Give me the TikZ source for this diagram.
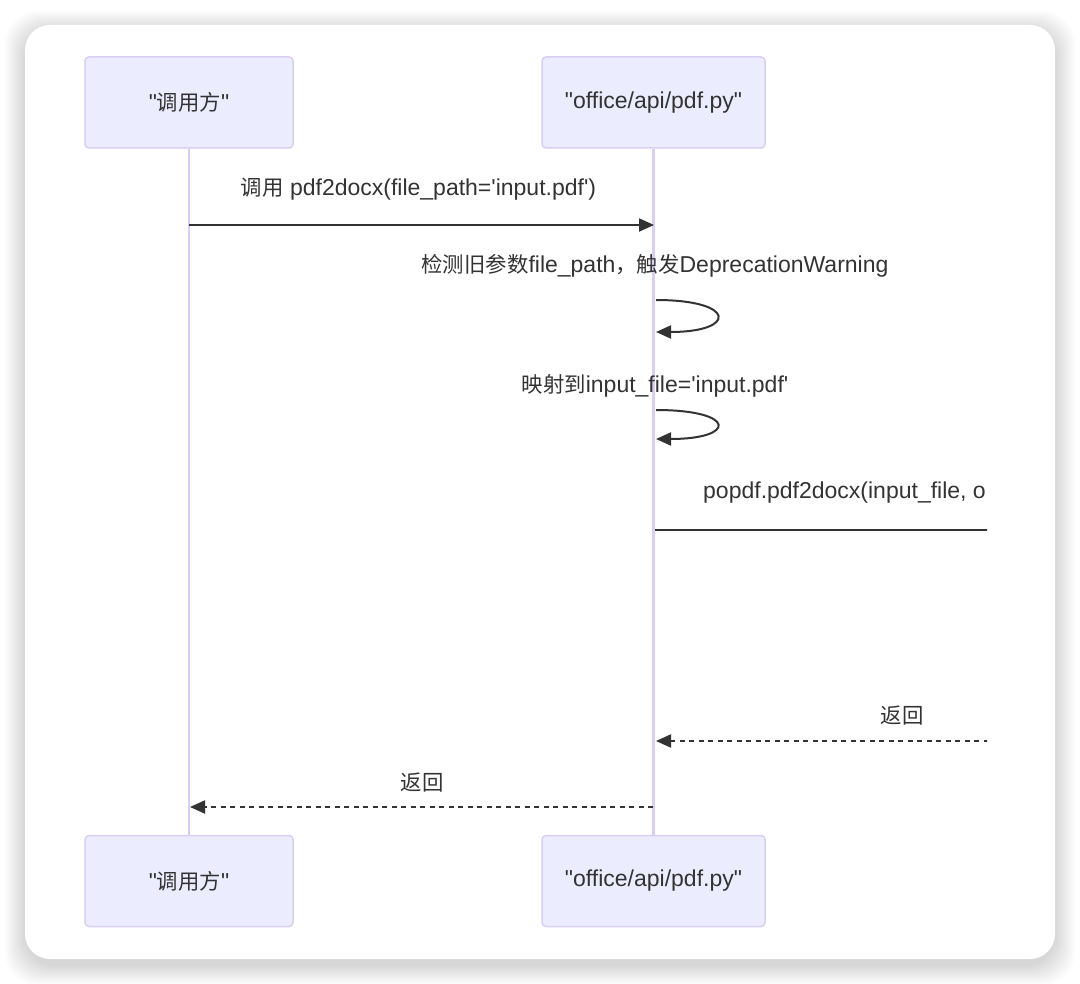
\documentclass[tikz,border=0pt]{standalone}
\usepackage{fontspec}
\newfontfamily\latinfont{Liberation Sans}
\newfontfamily\cjk[Scale=0.93]{Noto Sans CJK SC}
\usetikzlibrary{arrows.meta}

\definecolor{actorfill}{HTML}{ECECFF}
\definecolor{actorline}{HTML}{D9CFF3}
\definecolor{msgcol}{HTML}{333333}

\tikzset{
  actor/.style={draw=actorline, line width=1.5pt, fill=actorfill, rounded corners=4pt,
    minimum height=91pt, text=msgcol, font=\latinfont\fontsize{23}{27}\selectfont},
  lifeline/.style={draw=actorline, line width=2.5pt},
  msg/.style={draw=msgcol, line width=2pt, -{Triangle[length=15pt,width=13pt]}},
  reply/.style={msg, dash pattern=on 5pt off 4.5pt},
  msgtext/.style={text=msgcol, font=\latinfont\fontsize{23}{27}\selectfont, inner sep=0pt},
}

\begin{document}
\begin{tikzpicture}[x=1pt,y=-1pt]
\useasboundingbox (0,0) rectangle (1080,984);
\fill[white] (0,0) rectangle (1080,984);

% card with soft shadow
\foreach \i in {1,...,20}
  \fill[black, opacity=0.007, rounded corners=32pt] (25-\i,25-\i+6) rectangle (1055+\i,959+\i+6);
\fill[white, rounded corners=25pt] (25,25) rectangle (1055,959);

% actors
\node[actor, minimum width=208pt] (callerTop) at (189,102.5) {"{\cjk 调用方}"};
\node[actor, minimum width=223pt] (apiTop) at (653.5,102.5) {"office/api/pdf.py"};
\node[actor, minimum width=208pt] (callerBot) at (189,881) {"{\cjk 调用方}"};
\node[actor, minimum width=223pt] (apiBot) at (653.5,881) {"office/api/pdf.py"};

\draw[lifeline] (callerTop) -- (callerBot);
\draw[lifeline] (apiTop) -- (apiBot);

% message points
\coordinate (m1s) at (189,225);
\coordinate (m1e) at (654,225);
\coordinate (l1s) at (656,300);
\coordinate (l1e) at (656,332);
\coordinate (l2s) at (656,410);
\coordinate (l2e) at (656,439);
\coordinate (m4s) at (655,530);
\coordinate (m4e) at (1150,530);
\coordinate (r1s) at (1150,741);
\coordinate (r1e) at (656,741);
\coordinate (r2s) at (653,807);
\coordinate (r2e) at (190,807);

\begin{scope}
\clip (0,0) rectangle (987,984);

\node[msgtext] (t1) at (418.5,189) {{\cjk 调用} pdf2docx(file\_path='input.pdf')};
\draw[msg] (m1s) -- (m1e);

\node[msgtext] (t2) at (655,266) {{\cjk 检测旧参数}file\_path{\cjk ，触发}DeprecationWarning};
\draw[msg] (l1s) .. controls (737,300) and (737,332) .. (l1e);

\node[msgtext] (t3) at (655,386) {{\cjk 映射到}input\_file='input.pdf'};
\draw[msg] (l2s) .. controls (737,410) and (737,439) .. (l2e);

\node[msgtext, anchor=west] (t4) at (703,493) {popdf.pdf2docx(input\_file, o};
\draw[draw=msgcol, line width=2pt] (m4s) -- (m4e);

\node[msgtext] (t5) at (902,716) {\cjk 返回};
\draw[reply] (r1s) -- (r1e);

\node[msgtext] (t6) at (422,783) {\cjk 返回};
\draw[reply] (r2s) -- (r2e);
\end{scope}

\end{tikzpicture}
\end{document}
